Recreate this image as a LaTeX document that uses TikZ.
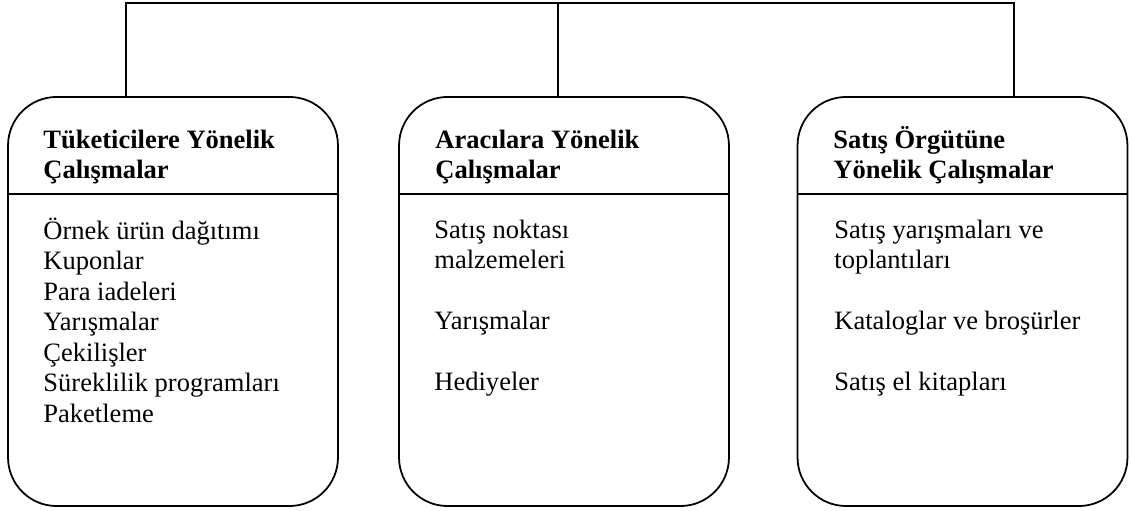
\documentclass[tikz,border=0pt]{standalone}
\usepackage{fontspec}
\setmainfont{Liberation Serif}

\begin{document}
\begin{tikzpicture}[x=0.4525pt, y=-0.4525pt,
    kutu/.style={draw, line width=0.8pt, rounded corners=22pt, minimum width=149.3pt, minimum height=185.1pt, inner sep=0pt},
    ayrac/.style={line width=0.8pt},
    baglanti/.style={line width=0.7pt},
    baslik/.style={anchor=north west, align=left, inner sep=0pt, font=\fontsize{12}{13.8}\selectfont\bfseries},
    madde/.style={anchor=north west, align=left, inner sep=0pt, font=\fontsize{12}{13.8}\selectfont}]
    \useasboundingbox (0,0) rectangle (1132,511);
    % kutular
    \node[kutu] (tuketici) at (173,301.5) {};
    \node[kutu] (araci) at (564,301.5) {};
    \node[kutu] (satis) at (962.5,301.5) {};
    \draw[ayrac] (tuketici.west |- 0,194) -- (tuketici.east |- 0,194);
    \draw[ayrac] (araci.west |- 0,194) -- (araci.east |- 0,194);
    \draw[ayrac] (satis.west |- 0,194) -- (satis.east |- 0,194);
    % ust baglanti
    \coordinate (ustL) at (126,3);
    \coordinate (ustM) at (558,3);
    \coordinate (ustR) at (1014,3);
    \draw[baglanti] (ustL |- tuketici.north) -- (ustL) -- (ustR) -- (ustR |- satis.north);
    \draw[baglanti] (ustM) -- (ustM |- araci.north);
    % basliklar
    \node[baslik] (tuketiciB) at (43,121.5) {\rule{0pt}{1em}Tüketicilere Yönelik\\Çalışmalar};
    \node[baslik] (araciB) at (435,121.5) {\rule{0pt}{1em}Aracılara Yönelik\\Çalışmalar};
    \node[baslik] (satisB) at (833,121.5) {\rule{0pt}{1em}Satış Örgütüne\\Yönelik Çalışmalar};
    % maddeler
    \node[madde] (tuketiciM) at (43,212.5) {\rule{0pt}{1em}Örnek ürün dağıtımı\\Kuponlar\\Para iadeleri\\Yarışmalar\\Çekilişler\\Süreklilik programları\\Paketleme};
    \node[madde] (araciM) at (434,211.5) {\rule{0pt}{1em}Satış noktası\\malzemeleri\\[13.8pt]Yarışmalar\\[13.8pt]Hediyeler};
    \node[madde] (satisM) at (834,211.5) {\rule{0pt}{1em}Satış yarışmaları ve\\toplantıları\\[13.8pt]Kataloglar ve broşürler\\[13.8pt]Satış el kitapları};
\end{tikzpicture}
\end{document}
